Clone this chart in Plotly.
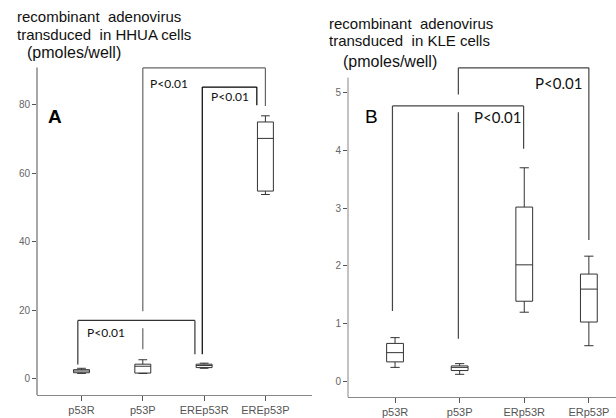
import plotly.graph_objects as go

# ---- data ----
left_cats = ["p53R", "p53P", "EREp53R", "EREp53P"]
left_lower = [1.5, 1.5, 3.0, 53.8]
left_q1 = [1.7, 1.6, 3.2, 54.8]
left_med = [2.2, 3.6, 3.8, 70.2]
left_q3 = [2.6, 4.2, 4.2, 75.0]
left_upper = [3.0, 5.5, 4.5, 76.8]
left_ticks = [0, 20, 40, 60, 80]

right_cats = ["p53R", "p53P", "ERp53R", "ERp53P"]
right_lower = [0.245, 0.125, 1.2, 0.62]
right_q1 = [0.34, 0.19, 1.39, 1.03]
right_med = [0.5, 0.245, 2.02, 1.6]
right_q3 = [0.66, 0.27, 3.02, 1.86]
right_upper = [0.76, 0.31, 3.7, 2.17]
right_ticks = [0, 1, 2, 3, 4, 5]

# brackets: (x_left, x_right, top, left_leg_bottom, right_leg_bottom, color)
left_brackets = [
    (1.0, 3.0, 90.8, 8.6, 79.7, "#666666"),
    (1.97, 2.86, 85.2, 7.1, 79.9, "#000000"),
    (-0.06, 1.85, 17.0, 4.1, 7.1, "#333333"),
]
left_gaps = [(1.0, 14.7, 19.7)]
right_brackets = [
    (0.98, 3.0, 5.43, 0.74, 2.45, "#444444"),
    (-0.04, 1.99, 4.77, 1.22, 4.03, "#444444"),
]
right_gaps = [(0.98, 4.66, 4.97)]

left_yrange = [-4.85, 91.5]
right_yrange = [-0.27, 5.47]
left_axis_top = 90.9
right_axis_top = 5.26

fig = go.Figure()

box_line = dict(color="#333333", width=1)
fig.add_trace(go.Box(
    x=list(range(len(left_cats))), q1=left_q1, median=left_med, q3=left_q3,
    lowerfence=left_lower, upperfence=left_upper,
    width=0.26, whiskerwidth=0.55, fillcolor="white", line=box_line,
    boxpoints=False, showlegend=False, xaxis="x", yaxis="y"))
fig.add_trace(go.Box(
    x=list(range(len(right_cats))), q1=right_q1, median=right_med, q3=right_q3,
    lowerfence=right_lower, upperfence=right_upper,
    width=0.26, whiskerwidth=0.55, fillcolor="white", line=box_line,
    boxpoints=False, showlegend=False, xaxis="x2", yaxis="y2"))

shapes = []


def add_bracket(b, gaps, xr, yr):
    x0, x1, top, lb, rb, col = b
    ln = dict(color=col, width=1.2)
    shapes.append(dict(type="line", xref=xr, yref=yr, x0=x0, x1=x1, y0=top, y1=top, line=ln))
    segs = [(lb, top)]
    for gx, g0, g1 in gaps:
        if abs(gx - x0) < 1e-9:
            segs = [(lb, g0), (g1, top)]
    for s0, s1 in segs:
        shapes.append(dict(type="line", xref=xr, yref=yr, x0=x0, x1=x0, y0=s0, y1=s1, line=ln))
    shapes.append(dict(type="line", xref=xr, yref=yr, x0=x1, x1=x1, y0=rb, y1=top, line=ln))


for b in left_brackets:
    add_bracket(b, left_gaps, "x", "y")
for b in right_brackets:
    add_bracket(b, right_gaps, "x2", "y2")

# y-axis lines drawn as shapes (so brackets can extend above)
shapes.append(dict(type="line", xref="x domain", yref="y", x0=0, x1=0,
                   y0=left_yrange[0], y1=left_axis_top, line=dict(color="#a8a8a8", width=2)))
shapes.append(dict(type="line", xref="x2 domain", yref="y2", x0=0, x1=0,
                   y0=right_yrange[0], y1=right_axis_top, line=dict(color="#888888", width=1)))

pfont = "Lato, Open Sans, sans-serif"
afont = "Liberation Sans, Arial, sans-serif"
annotations = [
    dict(text="P&lt;0.01", x=1.085, y=86.3, xref="x", yref="y", xanchor="left", yanchor="middle",
         showarrow=False, font=dict(family=pfont, size=12, color="#111")),
    dict(text="P&lt;0.01", x=2.08, y=82.5, xref="x", yref="y", xanchor="left", yanchor="middle",
         showarrow=False, font=dict(family=pfont, size=12, color="#111")),
    dict(text="P&lt;0.01", x=0.06, y=13.4, xref="x", yref="y", xanchor="left", yanchor="middle",
         showarrow=False, font=dict(family=pfont, size=12, color="#111")),
    dict(text="<b>A</b>", x=-0.58, y=76.7, xref="x", yref="y", xanchor="left", yanchor="middle",
         showarrow=False, font=dict(family=afont, size=19, color="#000")),
    dict(text="P&lt;0.01", x=2.14, y=5.16, xref="x2", yref="y2", xanchor="left", yanchor="middle",
         showarrow=False, font=dict(family=pfont, size=15, color="#111")),
    dict(text="P&lt;0.01", x=1.19, y=4.58, xref="x2", yref="y2", xanchor="left", yanchor="middle",
         showarrow=False, font=dict(family=pfont, size=15, color="#111")),
    dict(text="B", x=-0.5, y=4.58, xref="x2", yref="y2", xanchor="left", yanchor="middle",
         showarrow=False, font=dict(family=afont, size=19, color="#000")),
]

W, H = 616, 418


def ptext(text, px, py, size):
    return dict(text=text, x=px / W, y=1 - py / H, xref="paper", yref="paper",
                xanchor="left", yanchor="middle", showarrow=False,
                font=dict(family=afont, size=size, color="#111"))


annotations += [
    ptext("recombinant  adenovirus", 15, 17, 15),
    ptext("transduced  in HHUA cells", 15, 35, 15),
    ptext("(pmoles/well)", 25, 53, 16),
    ptext("recombinant  adenovirus", 327, 24, 15),
    ptext("transduced  in KLE cells", 327, 41, 15),
    ptext("(pmoles/well)", 341, 62, 16),
]

tickfont = dict(family=afont, size=10, color="#666666")
catfont = dict(family=afont, size=11, color="#555555")

fig.update_layout(
    width=W, height=H, margin=dict(l=0, r=0, t=0, b=0),
    paper_bgcolor="white", plot_bgcolor="white",
    shapes=shapes, annotations=annotations,
    xaxis=dict(domain=[37 / W, 312 / W], range=[-0.726, 3.76], tickvals=[0, 1, 2, 3],
               ticktext=left_cats, showline=True, linecolor="#888888", linewidth=1,
               ticks="outside", ticklen=5, tickcolor="#555555", tickfont=catfont,
               showgrid=False, zeroline=False, anchor="y"),
    yaxis=dict(domain=[1 - 398 / H, 1 - 66 / H], range=left_yrange, tickvals=left_ticks,
               showline=False, ticks="outside", ticklen=4, tickcolor="#555555",
               tickfont=tickfont, showgrid=False, zeroline=False, anchor="x"),
    xaxis2=dict(domain=[348 / W, 1.0], range=[-0.728, 3.42], tickvals=[0, 1, 2, 3],
                ticktext=right_cats, showline=True, linecolor="#888888", linewidth=1,
                ticks="outside", ticklen=5, tickcolor="#555555", tickfont=catfont,
                showgrid=False, zeroline=False, anchor="y2"),
    yaxis2=dict(domain=[1 - 400 / H, 1 - 66 / H], range=right_yrange, tickvals=right_ticks,
                showline=False, ticks="outside", ticklen=4, tickcolor="#555555",
                tickfont=tickfont, showgrid=False, zeroline=False, anchor="x2"),
)

fig.write_html("out.html", config={"displayModeBar": False},
               post_script="document.body.style.margin='0';document.body.style.overflow='hidden';")
